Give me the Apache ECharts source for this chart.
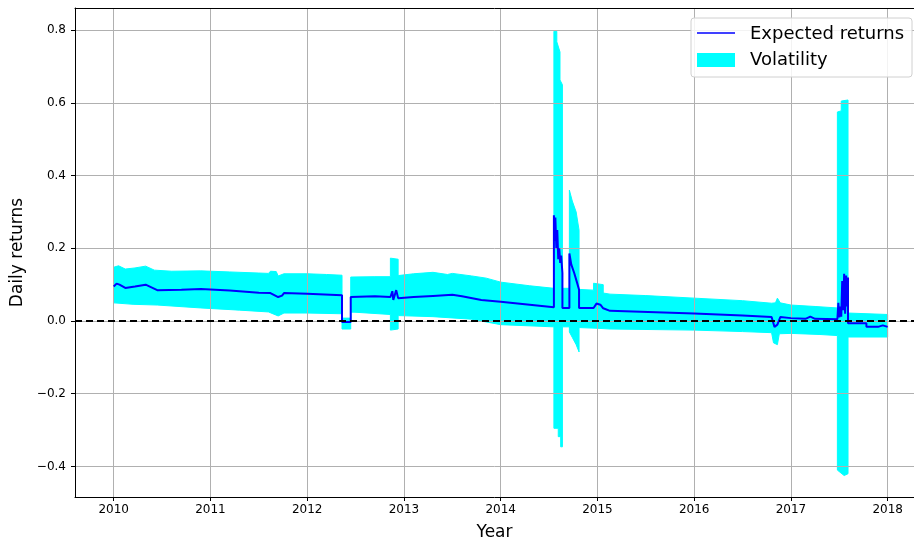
<!DOCTYPE html>
<html>
<head>
<meta charset="utf-8">
<script src="https://cdn.jsdelivr.net/npm/echarts@6/dist/echarts.min.js"></script>
<style>html,body{margin:0;padding:0;background:#fff;}#c{width:914px;height:542px;}</style>
</head>
<body>
<div id="c"></div>
<script>
// ---- data ----
var xTicks = [2010, 2011, 2012, 2013, 2014, 2015, 2016, 2017, 2018];
var yTicks = [-0.4, -0.2, 0.0, 0.2, 0.4, 0.6, 0.8];

// upper edge of the volatility band
var upperX = [2010.00,2010.05,2010.12,2010.22,2010.33,2010.42,2010.6,2010.9,2011.2,2011.5,2011.6,2011.62,2011.68,2011.7,2011.76,2012.0,2012.2,2012.36,2012.36,2012.45,2012.45,2012.7,2012.86,2012.86,2012.94,2012.94,2013.1,2013.3,2013.45,2013.5,2013.7,2013.85,2014.0,2014.3,2014.55,2014.55,2014.58,2014.58,2014.613,2014.613,2014.638,2014.638,2014.71,2014.71,2014.74,2014.78,2014.81,2014.81,2014.96,2014.96,2015.06,2015.06,2015.13,2015.5,2016.0,2016.5,2016.8,2016.84,2016.86,2016.89,2017.0,2017.25,2017.48,2017.48,2017.52,2017.52,2017.59,2017.59,2018.0];
var upperY = [0.148,0.152,0.143,0.146,0.151,0.140,0.137,0.138,0.135,0.132,0.131,0.137,0.136,0.124,0.130,0.130,0.128,0.126,0.008,0.008,0.121,0.122,0.122,0.173,0.170,0.125,0.130,0.134,0.128,0.131,0.124,0.118,0.107,0.097,0.090,0.797,0.797,0.768,0.740,0.663,0.650,0.090,0.090,0.360,0.330,0.300,0.250,0.087,0.085,0.104,0.100,0.077,0.074,0.070,0.063,0.056,0.049,0.050,0.063,0.050,0.044,0.040,0.036,0.575,0.578,0.605,0.608,0.022,0.018];

// lower edge of the volatility band
var lowerX = [2010.00,2010.2,2010.45,2010.9,2011.3,2011.6,2011.7,2011.76,2012.0,2012.36,2012.36,2012.45,2012.45,2012.86,2012.86,2012.94,2012.94,2013.3,2013.7,2014.0,2014.55,2014.55,2014.595,2014.595,2014.62,2014.62,2014.638,2014.638,2014.71,2014.71,2014.74,2014.78,2014.81,2014.81,2015.0,2015.13,2016.0,2016.5,2016.8,2016.82,2016.86,2016.88,2017.0,2017.3,2017.48,2017.48,2017.55,2017.59,2017.59,2018.0];
var lowerY = [0.050,0.046,0.044,0.036,0.030,0.025,0.014,0.022,0.022,0.020,-0.022,-0.022,0.025,0.018,-0.025,-0.022,0.015,0.012,0.005,-0.010,-0.016,-0.295,-0.295,-0.318,-0.318,-0.346,-0.346,-0.016,-0.016,-0.030,-0.045,-0.065,-0.085,-0.018,-0.020,-0.022,-0.025,-0.029,-0.032,-0.060,-0.065,-0.035,-0.034,-0.037,-0.040,-0.410,-0.425,-0.420,-0.044,-0.044];

// expected returns line
var retX = [2010.00,2010.03,2010.06,2010.12,2010.22,2010.33,2010.45,2010.7,2010.9,2011.2,2011.5,2011.62,2011.64,2011.7,2011.74,2011.76,2012.0,2012.36,2012.36,2012.45,2012.45,2012.7,2012.86,2012.88,2012.89,2012.92,2012.94,2013.1,2013.3,2013.5,2013.6,2013.8,2014.0,2014.3,2014.55,2014.55,2014.56,2014.565,2014.575,2014.585,2014.595,2014.605,2014.615,2014.625,2014.638,2014.638,2014.71,2014.71,2014.73,2014.76,2014.79,2014.81,2014.81,2014.96,2014.99,2015.03,2015.06,2015.13,2016.0,2016.5,2016.8,2016.83,2016.86,2016.89,2017.0,2017.15,2017.2,2017.25,2017.48,2017.49,2017.50,2017.51,2017.52,2017.53,2017.54,2017.55,2017.56,2017.57,2017.58,2017.59,2017.59,2017.78,2017.78,2017.9,2017.95,2018.0];
var retY = [0.095,0.103,0.100,0.091,0.095,0.100,0.085,0.086,0.088,0.084,0.078,0.077,0.080,0.066,0.070,0.077,0.075,0.071,-0.003,-0.003,0.066,0.068,0.066,0.082,0.058,0.085,0.063,0.066,0.069,0.072,0.068,0.058,0.053,0.045,0.038,0.291,0.220,0.285,0.200,0.250,0.170,0.200,0.160,0.180,0.132,0.036,0.036,0.186,0.155,0.132,0.105,0.086,0.036,0.036,0.048,0.045,0.035,0.028,0.021,0.015,0.011,-0.016,-0.010,0.011,0.008,0.006,0.012,0.006,0.005,0.050,0.010,0.040,0.012,0.110,0.030,0.130,0.020,0.125,0.040,0.120,-0.006,-0.006,-0.016,-0.016,-0.012,-0.016];

var retData = retX.map(function (x, i) { return [x, retY[i]]; });

var FONT = 'DejaVu Sans';
var X_MIN = 2009.6, X_MAX = 2018.272; // right part of the frame is cropped in the reference
var chart = echarts.init(document.getElementById('c'), null, { renderer: 'canvas' });

function fmtY(v) {
  var s = Math.abs(v).toFixed(1);
  return v < -1e-9 ? '\u2212' + s : s;
}

chart.setOption({
  animation: false,
  backgroundColor: '#ffffff',
  grid: { left: 75, right: 0, top: 8, bottom: 45, show: false, containLabel: false, outerBoundsMode: 'none' },
  xAxis: [
    {
      type: 'value', min: X_MIN, max: X_MAX,
      name: 'Year', nameLocation: 'middle', nameGap: 27,
      nameTextStyle: { fontSize: 17, color: '#000', fontFamily: FONT },
      axisLine: { show: true, onZero: false, lineStyle: { color: '#000', width: 1 } },
      axisTick: { show: true, length: 4, customValues: xTicks, lineStyle: { color: '#000' } },
      axisLabel: { customValues: xTicks, color: '#000', fontSize: 12, fontFamily: FONT, margin: 7, formatter: function (v) { return String(Math.round(v)); } },
      splitLine: { show: true, lineStyle: { color: '#b0b0b0', width: 1 } }
    },
    {
      type: 'value', position: 'top', min: X_MIN, max: X_MAX,
      axisLine: { show: true, onZero: false, lineStyle: { color: '#000', width: 1 } },
      axisTick: { show: false }, axisLabel: { show: false }, splitLine: { show: false }
    }
  ],
  yAxis: {
    type: 'value', min: -0.484, max: 0.861,
    name: 'Daily returns', nameLocation: 'middle', nameGap: 47,
    nameTextStyle: { fontSize: 17, color: '#000', fontFamily: FONT },
    axisLine: { show: true, onZero: false, lineStyle: { color: '#000', width: 1 } },
    axisTick: { show: true, length: 4, customValues: yTicks, lineStyle: { color: '#000' } },
    axisLabel: { customValues: yTicks, color: '#000', fontSize: 12, fontFamily: FONT, margin: 9, formatter: fmtY },
    splitLine: { show: true, lineStyle: { color: '#b0b0b0', width: 1 } }
  },
  series: [
    {
      name: 'Volatility',
      type: 'custom',
      z: -1,
      silent: true,
      clip: true,
      data: [[2014, 0]],
      renderItem: function (params, api) {
        if (params.dataIndex !== 0) return null;
        var pts = [];
        for (var i = 0; i < upperX.length; i++) pts.push(api.coord([upperX[i], upperY[i]]));
        for (var j = lowerX.length - 1; j >= 0; j--) pts.push(api.coord([lowerX[j], lowerY[j]]));
        return { type: 'polygon', shape: { points: pts }, style: { fill: '#00ffff', stroke: '#00ffff', lineWidth: 1 } };
      }
    },
    {
      name: 'Expected returns',
      type: 'line',
      data: retData,
      showSymbol: false,
      symbol: 'none',
      lineStyle: { color: '#0000ff', width: 2 },
      z: 2,
      markLine: {
        silent: true,
        symbol: ['none', 'none'],
        label: { show: false },
        lineStyle: { color: '#000', type: [7, 4], width: 1.8 },
        data: [{ yAxis: 0 }],
        z: 3
      }
    }
  ],
  graphic: [
    { type: 'rect', z: 100, shape: { x: 691, y: 18, width: 221, height: 59, r: 3 }, style: { fill: 'rgba(255,255,255,0.85)', stroke: '#d0d0d0', lineWidth: 1 } },
    { type: 'line', z: 101, shape: { x1: 697, y1: 33, x2: 735, y2: 33 }, style: { stroke: '#0000ff', lineWidth: 1.6 } },
    { type: 'rect', z: 101, shape: { x: 697, y: 53, width: 38, height: 14 }, style: { fill: '#00ffff' } },
    { type: 'text', z: 101, x: 750, y: 34, style: { text: 'Expected returns', fontSize: 18, fontFamily: FONT, fill: '#000', verticalAlign: 'middle' } },
    { type: 'text', z: 101, x: 750, y: 60, style: { text: 'Volatility', fontSize: 18, fontFamily: FONT, fill: '#000', verticalAlign: 'middle' } }
  ]
});
</script>
</body>
</html>
